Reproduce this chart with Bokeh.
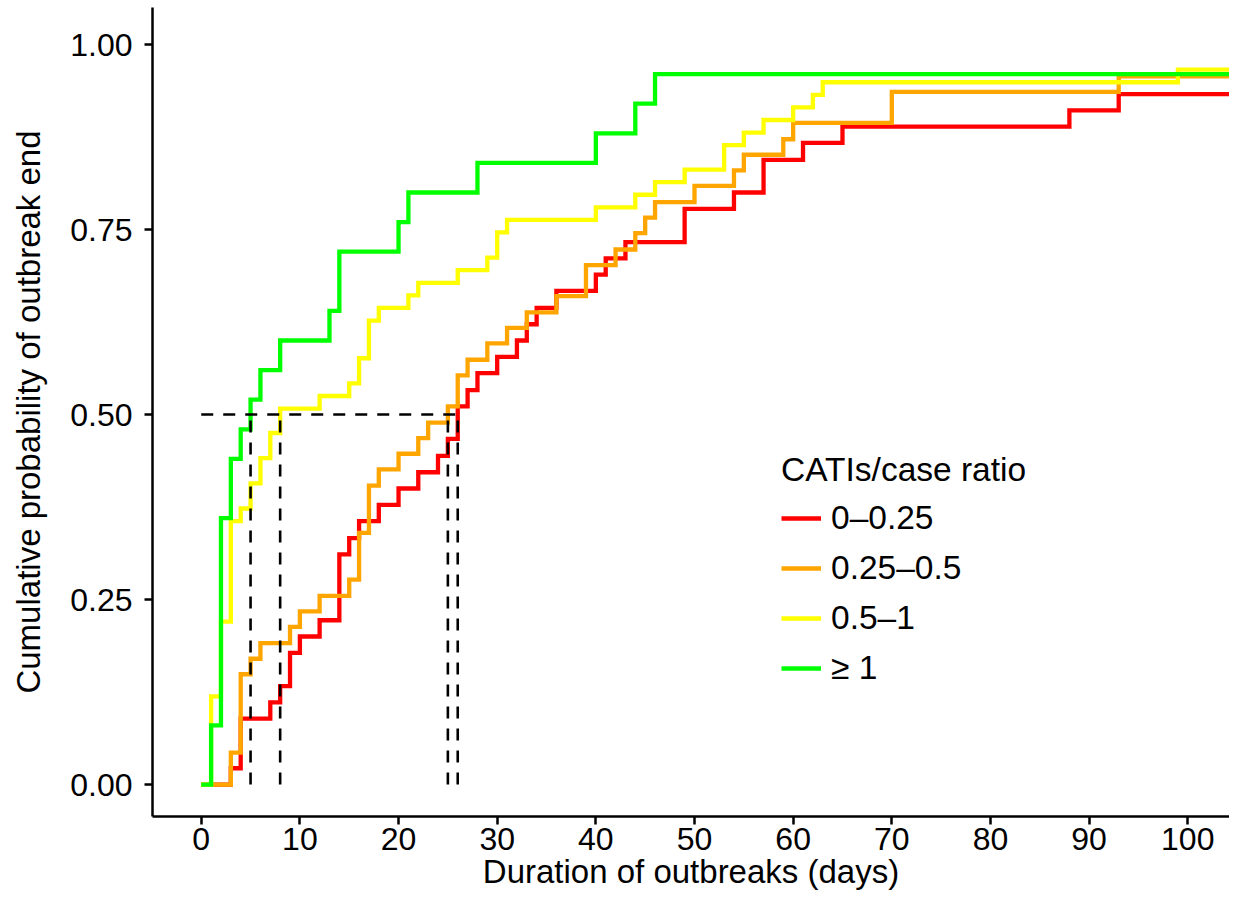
from bokeh.plotting import figure
from bokeh.models import Range1d, FixedTicker, Legend, LegendItem, PrintfTickFormatter
from bokeh.embed import file_html
from bokeh.resources import INLINE

# ---- data ----
red_t = [0, 3, 4, 7, 8, 9, 10, 12, 14, 15, 16, 18, 20, 22, 24, 25, 26, 27, 28, 30, 32, 33, 34, 36,
         40, 41, 43, 49, 54, 57, 61, 65, 88, 93, 110]
red_p = [0, 0.022, 0.089, 0.111, 0.133, 0.178, 0.200, 0.222, 0.311, 0.333, 0.356, 0.378, 0.400,
         0.422, 0.444, 0.467, 0.511, 0.533, 0.556, 0.578, 0.600, 0.622, 0.644, 0.667, 0.689, 0.711,
         0.733, 0.778, 0.800, 0.844, 0.867, 0.889, 0.911, 0.933, 0.933]

orange_t = [0, 3, 4, 5, 6, 9, 10, 12, 15, 16, 17, 18, 20, 22, 23, 25, 26, 27, 29, 31, 33, 36, 39,
            42, 44, 45, 46, 50, 54, 55, 59, 60, 70, 93, 110]
orange_p = [0, 0.043, 0.149, 0.170, 0.191, 0.213, 0.234, 0.255, 0.277, 0.340, 0.404, 0.426, 0.447,
            0.468, 0.489, 0.511, 0.553, 0.574, 0.596, 0.617, 0.638, 0.660, 0.702, 0.723, 0.745,
            0.766, 0.787, 0.809, 0.830, 0.851, 0.872, 0.894, 0.936, 0.957, 0.957]

yellow_t = [0, 1, 2, 3, 4, 5, 6, 7, 8, 12, 15, 16, 17, 18, 21, 22, 26, 29, 30, 31, 40, 44, 46, 49,
            53, 55, 57, 60, 62, 63, 99, 110]
yellow_p = [0, 0.119, 0.220, 0.356, 0.373, 0.407, 0.441, 0.475, 0.508, 0.525, 0.542, 0.576, 0.627,
            0.644, 0.661, 0.678, 0.695, 0.712, 0.746, 0.763, 0.780, 0.797, 0.814, 0.831, 0.864,
            0.881, 0.898, 0.915, 0.932, 0.949, 0.966, 0.966]

green_t = [0, 1, 2, 3, 4, 5, 6, 8, 13, 14, 20, 21, 28, 40, 44, 46, 110]
green_p = [0, 0.08, 0.36, 0.44, 0.48, 0.52, 0.56, 0.60, 0.64, 0.72, 0.76, 0.80, 0.84, 0.88, 0.92,
           0.96, 0.96]

medians = [5, 8, 25, 26]
median_level = 0.5

series_labels = ["0\u20130.25", "0.25\u20130.5", "0.5\u20131", "\u2265 1"]
series_colors = ["#FF0000", "#FFA500", "#FFFF00", "#00FF00"]

x_ticks = [0, 10, 20, 30, 40, 50, 60, 70, 80, 90, 100]
y_ticks = [0, 0.25, 0.5, 0.75, 1.0]

FONT = "Liberation Sans"

p = figure(width=1229, height=898, output_backend="svg", toolbar_location=None,
           x_range=Range1d(-4.94, 104.23), y_range=Range1d(-0.0432, 1.05),
           min_border_left=152, min_border_right=0, min_border_top=7, min_border_bottom=82)
p.outline_line_color = None
p.grid.visible = False
p.background_fill_color = "white"

series = [(red_t, red_p), (orange_t, orange_p), (yellow_t, yellow_p), (green_t, green_p)]
renderers = []
for (t, pr), c in zip(series, series_colors):
    r = p.step(t, pr, mode="after", line_color=c, line_width=4.3,
               line_join="miter", line_cap="butt")
    renderers.append(r)

# median guide lines
p.segment(x0=[0], y0=[median_level], x1=[max(medians)], y1=[median_level],
          line_color="black", line_width=2.6, line_dash="12 10")
p.segment(x0=medians, y0=[0] * len(medians), x1=medians, y1=[median_level] * len(medians),
          line_color="black", line_width=2.6, line_dash="12 10")

# axes
for ax in (p.xaxis[0], p.yaxis[0]):
    ax.axis_line_width = 2.5
    ax.axis_line_color = "black"
    ax.major_tick_line_width = 2.5
    ax.major_tick_line_color = "black"
    ax.major_tick_in = 0
    ax.major_tick_out = 8
    ax.minor_tick_line_color = None
    ax.major_label_text_font = FONT
    ax.major_label_text_font_size = "32px"
    ax.major_label_text_color = "black"
    ax.axis_label_text_font = FONT
    ax.axis_label_text_font_size = "33px"
    ax.axis_label_text_font_style = "normal"
    ax.axis_label_text_color = "black"

p.xaxis.ticker = FixedTicker(ticks=x_ticks)
p.yaxis.ticker = FixedTicker(ticks=y_ticks)
p.yaxis.formatter = PrintfTickFormatter(format="%.2f")
p.xaxis.axis_label = "Duration of outbreaks (days)"
p.yaxis.axis_label = "Cumulative probability of outbreak end"
p.xaxis.major_label_standoff = 3
p.xaxis.axis_label_standoff = 0
p.yaxis.major_label_standoff = 12
p.yaxis.axis_label_standoff = 20

legend = Legend(items=[LegendItem(label=l, renderers=[r]) for l, r in zip(series_labels, renderers)],
                location=(629, 123), title="CATIs/case ratio")
legend.title_text_font = FONT
legend.title_text_font_size = "33.5px"
legend.title_text_font_style = "normal"
legend.title_text_color = "black"
legend.title_standoff = 4
legend.label_text_font = FONT
legend.label_text_font_size = "33.5px"
legend.label_text_color = "black"
legend.glyph_width = 40
legend.glyph_height = 50
legend.label_height = 50
legend.spacing = 0
legend.padding = 0
legend.margin = 0
legend.label_standoff = 10
legend.border_line_color = None
legend.background_fill_alpha = 0
p.add_layout(legend)

open("out.html", "w").write(file_html(p, INLINE))
